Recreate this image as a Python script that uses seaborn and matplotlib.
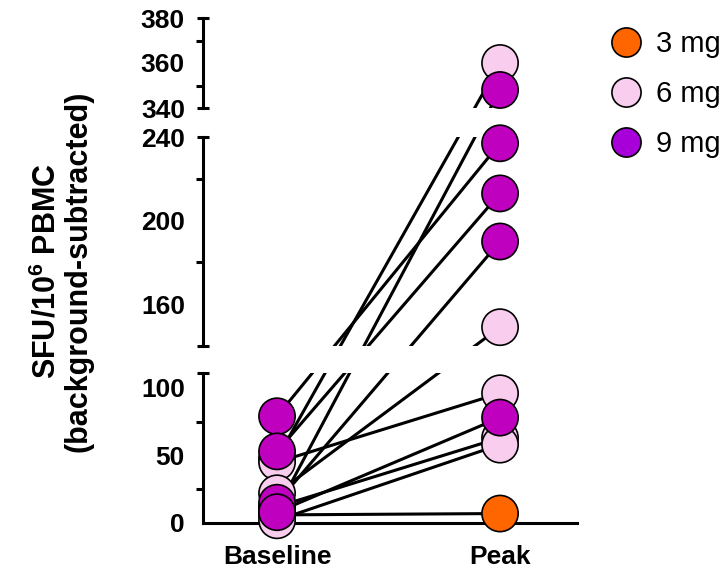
import matplotlib
matplotlib.use('Agg')
from matplotlib import pyplot as plt
from matplotlib.lines import Line2D
import seaborn as sns
import numpy as np
import pandas as pd

# dados
times = ['Baseline', 'Peak']
doses = ['3 mg', '6 mg', '9 mg']
base_3mg = [6]
peak_3mg = [7]
base_6mg = [48, 45, 22, 12, 2]
peak_6mg = [360, 96, 149, 63, 58]
base_9mg = [79, 53, 10, 15, 8]
peak_9mg = [237, 213, 348, 190, 78]

palette = {'3 mg': '#FF6600', '6 mg': '#F9CDEE', '9 mg': '#BF00BF'}
legend_colors = {'3 mg': '#FF6600', '6 mg': '#F9CDEE', '9 mg': '#A800D8'}

sns.set_style('white')
plt.rcParams['font.family'] = ['Liberation Sans', 'DejaVu Sans']
plt.rcParams['font.weight'] = 'bold'
plt.rcParams['text.color'] = 'black'
plt.rcParams['axes.labelcolor'] = 'black'
plt.rcParams['xtick.color'] = 'black'
plt.rcParams['ytick.color'] = 'black'
plt.rcParams['mathtext.fontset'] = 'custom'
plt.rcParams['mathtext.rm'] = 'Liberation Sans:bold'
plt.rcParams['mathtext.bf'] = 'Liberation Sans:bold'

# tabela longa: uma linha por sujeito e tempo
rows = []
subj = 0
for dose, base, peak in [('3 mg', base_3mg, peak_3mg), ('6 mg', base_6mg, peak_6mg), ('9 mg', base_9mg, peak_9mg)]:
    for b, p in zip(base, peak):
        rows.append({'subject': subj, 'dose': dose, 'time': times[0], 'value': b})
        rows.append({'subject': subj, 'dose': dose, 'time': times[1], 'value': p})
        subj += 1
df = pd.DataFrame(rows)
df['pos'] = df['time'].map({t: i for i, t in enumerate(times)})

W, H = 726, 570
fig = plt.figure(figsize=(W / 100, H / 100), dpi=100)

def rect(top_px, bot_px):
    return [203 / W, 1 - bot_px / H, (577 - 203) / W, (bot_px - top_px) / H]

# tres segmentos do eixo y quebrado
ax_top = fig.add_axes(rect(18, 108))
ax_mid = fig.add_axes(rect(137, 346))
ax_bot = fig.add_axes(rect(373, 523))
panels = [(ax_top, 340, 380, [340, 360, 380], [350, 370]),
          (ax_mid, 140, 240, [160, 200, 240], [180, 220]),
          (ax_bot, 0, 111, [0, 50, 100], [25, 75])]

lw = 2.2
for ax, lo, hi, major, minor in panels:
    sub = df[(df['value'] >= lo) & (df['value'] <= hi)]
    sns.scatterplot(data=sub, x='pos', y='value', hue='dose', hue_order=doses,
                    palette=palette, s=680, edgecolor='black', linewidth=1.2,
                    legend=False, ax=ax, clip_on=False, zorder=3)
    ax.set_xlim(-0.332, 1.345)
    ax.set_ylim(lo, hi)
    ax.set_yticks(major)
    ax.set_yticks(minor, minor=True)
    ax.set_xlabel('')
    ax.set_ylabel('')
    for s in ['top', 'right', 'bottom']:
        ax.spines[s].set_visible(False)
    ax.spines['left'].set_linewidth(lw)
    ax.spines['left'].set_color('black')
    ax.tick_params(axis='y', which='major', length=9, width=lw, labelsize=19, direction='out', pad=4)
    ax.tick_params(axis='y', which='minor', length=5, width=lw, direction='out', left=True)
    ax.patch.set_alpha(0)
    # pequenos tracos nas extremidades de cada segmento
    c = 6 / 374
    ends = [lo, hi] if ax is not ax_bot else [hi]
    for v in ends:
        ax.plot([-c, c], [v, v], transform=ax.get_yaxis_transform(), color='black',
                lw=lw, clip_on=False, solid_capstyle='butt')
    if ax is ax_bot:
        ax.spines['bottom'].set_visible(True)
        ax.spines['bottom'].set_linewidth(lw)
        ax.spines['bottom'].set_color('black')
        ax.set_xticks(range(len(times)), labels=times)
        ax.tick_params(axis='x', length=8, width=lw, labelsize=19, direction='out', pad=8)
    else:
        ax.set_xticks([])

def panel_of(v):
    for ax, lo, hi, _, _ in panels:
        if lo <= v <= hi:
            return ax
    return ax_bot

def fig_xy(x, v):
    ax = panel_of(v)
    disp = ax.transData.transform((x, v))
    return fig.transFigure.inverted().transform(disp)

# linhas retas em pixels entre baseline e pico (como no Prism)
for sid, g in df.groupby('subject'):
    g = g.sort_values('pos')
    p0 = fig_xy(g['pos'].iloc[0], g['value'].iloc[0])
    p1 = fig_xy(g['pos'].iloc[1], g['value'].iloc[1])
    for ax, *_ in panels:
        ax.plot([p0[0], p1[0]], [p0[1], p1[1]], transform=fig.transFigure,
                color='black', lw=lw, zorder=2)

fig.text(62 / W, 1 - 271 / H, 'SFU/10$^{6}$ PBMC\n(background-subtracted)', rotation=90,
         ha='center', va='center', multialignment='center', fontsize=22, fontweight='bold',
         linespacing=1.05)

handles = [Line2D([], [], marker='o', ls='', markersize=21, markerfacecolor=legend_colors[d],
                  markeredgecolor='black', markeredgewidth=1.2) for d in doses]
fig.legend(handles, doses, loc='upper left', bbox_to_anchor=(606 / W, 1 - 30 / H),
           frameon=False, prop={'size': 21, 'weight': 'normal'}, labelspacing=0.76,
           handlelength=1.4, handletextpad=0.3, borderaxespad=0, borderpad=0)

fig.savefig('out.png', dpi=100)
